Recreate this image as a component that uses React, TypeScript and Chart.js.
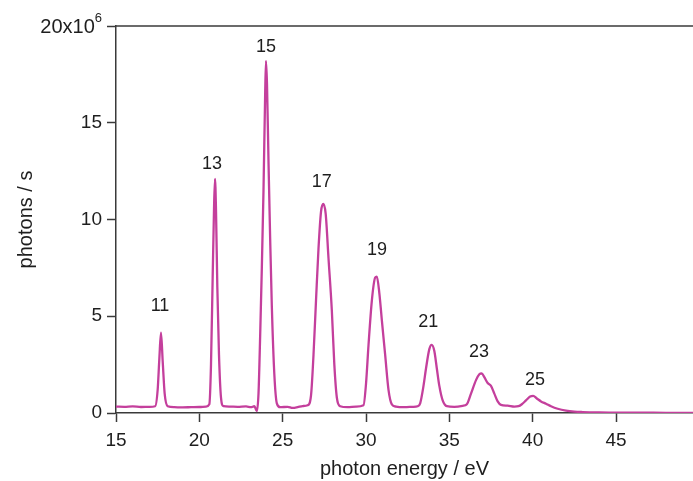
import React, { useEffect, useRef } from "react";
import { Chart, registerables } from "chart.js";

Chart.register(...registerables);

// photon energy (eV)
const spectrumEnergy = [
  15.0, 15.5, 16.0, 16.5, 17.0, 17.35, 17.5, 17.6, 17.7, 17.8, 17.92, 18.1, 18.5, 19.0, 19.5, 20.0,
  20.4, 20.6, 20.7, 20.8, 20.88, 20.94, 21.0, 21.08, 21.18, 21.3, 21.45, 21.8, 22.3, 22.8, 23.1, 23.3,
  23.45, 23.55, 23.65, 23.75, 23.85, 23.95, 24.0, 24.06, 24.15, 24.25, 24.35, 24.5, 24.65, 24.85,
  25.3, 25.6, 25.9, 26.2, 26.5, 26.7, 26.85, 27.0, 27.15, 27.3, 27.44, 27.58, 27.75, 27.95, 28.1,
  28.25, 28.45, 28.9, 29.4, 29.85, 30.0, 30.15, 30.35, 30.55, 30.65, 30.8, 30.95, 31.15, 31.35,
  31.55, 31.8, 32.3, 32.8, 33.1, 33.25, 33.45, 33.6, 33.8, 33.94, 34.1, 34.25, 34.4, 34.6, 34.85,
  35.3, 35.8, 36.05, 36.3, 36.6, 36.8, 36.94, 37.1, 37.3, 37.5, 37.7, 37.9, 38.1, 38.5, 38.9,
  39.15, 39.35, 39.6, 39.85, 40.03, 40.25, 40.5, 40.8, 41.1, 41.5, 42.0, 42.5, 43.0, 44.0, 45.0,
  46.5, 48.0, 49.62,
];

// photons / s (x10^6)
const spectrumPhotons = [
  0.33, 0.32, 0.34, 0.31, 0.32, 0.35, 1.2, 2.8, 4.15, 2.7, 1.0, 0.35, 0.3, 0.29, 0.3, 0.31,
  0.33, 0.45, 2.5, 7.0, 10.5, 12.1, 10.5, 6.5, 3.0, 0.8, 0.35, 0.33, 0.32, 0.34, 0.3, 0.35,
  0.1, 1.0, 4.0, 7.5, 11.5, 16.5, 18.2, 17.0, 13.0, 9.0, 5.5, 2.0, 0.5, 0.3,
  0.32, 0.26, 0.3, 0.36, 0.4, 0.9, 3.0, 5.8, 8.5, 10.4, 10.8, 10.3, 8.0, 5.3, 2.5,
  0.8, 0.35, 0.3, 0.33, 0.4, 1.5, 3.5, 5.8, 7.0, 7.05, 6.2, 4.8, 3.0, 1.2,
  0.45, 0.33, 0.3, 0.32, 0.35, 0.5, 1.4, 2.3, 3.3, 3.52, 3.2, 2.3, 1.4, 0.65, 0.35,
  0.32, 0.37, 0.45, 1.0, 1.7, 2.0, 2.05, 1.85, 1.55, 1.4, 1.0, 0.6, 0.42, 0.38, 0.33,
  0.35, 0.45, 0.65, 0.85, 0.88, 0.75, 0.6, 0.48, 0.35, 0.22, 0.12, 0.07, 0.05, 0.03, 0.02,
  0.02, 0.01, 0.01,
];

// harmonic order labels, anchored in data units
const harmonicOrders = ["11", "13", "15", "17", "19", "21", "23", "25"];
const harmonicLabelEnergy = [17.64, 20.76, 24.0, 27.34, 30.66, 33.73, 36.78, 40.14];
const harmonicLabelPhotons = [5.53, 12.87, 18.91, 11.96, 8.42, 4.68, 3.13, 1.72];

const xTicks = [15, 20, 25, 30, 35, 40, 45];
const yTicks = [0, 5, 10, 15, 20];
const xMin = 15;
const xMax = 49.62;
const yMin = 0;
const yMax = 20;

const FONT = "'Liberation Sans', Arial, Helvetica, sans-serif";
const TEXT = "#1e1e1e";
const AXIS = "#3a3a3a";
const LINE = "#c43f9c";

export default function App() {
  const ref = useRef<HTMLCanvasElement | null>(null);

  useEffect(() => {
    document.body.style.margin = "0";
    const canvas = ref.current;
    if (!canvas) return;

    const overlay = {
      id: "overlay",
      afterDraw(chart: any) {
        const { ctx, chartArea } = chart;
        const xs = chart.scales.x;
        const ys = chart.scales.y;
        ctx.save();
        // top frame line
        ctx.strokeStyle = AXIS;
        ctx.lineWidth = 1.5;
        ctx.beginPath();
        ctx.moveTo(chartArea.left, chartArea.top);
        ctx.lineTo(chartArea.right, chartArea.top);
        ctx.stroke();

        // top y label with superscript
        ctx.fillStyle = TEXT;
        ctx.textBaseline = "middle";
        const yTop = ys.getPixelForValue(yMax);
        ctx.font = `13px ${FONT}`;
        ctx.textAlign = "right";
        const supW = ctx.measureText("6").width;
        const rightEdge = chartArea.left - 14;
        ctx.fillText("6", rightEdge, yTop - 8);
        ctx.font = `20px ${FONT}`;
        ctx.fillText(`${yMax}x10`, rightEdge - supW, yTop + 1);

        // harmonic labels
        ctx.font = `18px ${FONT}`;
        ctx.textAlign = "center";
        ctx.textBaseline = "middle";
        harmonicOrders.forEach((lab, i) => {
          ctx.fillText(
            lab,
            xs.getPixelForValue(harmonicLabelEnergy[i]),
            ys.getPixelForValue(harmonicLabelPhotons[i])
          );
        });

        // axis titles
        ctx.font = `20px ${FONT}`;
        ctx.textBaseline = "alphabetic";
        ctx.textAlign = "center";
        ctx.fillText("photon energy / eV", (chartArea.left + chartArea.right) / 2, 475);
        ctx.translate(32, (chartArea.top + chartArea.bottom) / 2);
        ctx.rotate(-Math.PI / 2);
        ctx.fillText("photons / s", 0, 0);
        ctx.restore();
      },
    };

    const chart = new Chart(canvas, {
      type: "line",
      data: {
        datasets: [
          {
            data: spectrumEnergy.map((e, i) => ({ x: e, y: spectrumPhotons[i] })),
            borderColor: LINE,
            borderWidth: 2.3,
            pointRadius: 0,
            cubicInterpolationMode: "monotone",
            borderJoinStyle: "round",
            fill: false,
          },
        ],
      },
      options: {
        responsive: false,
        animation: false,
        layout: { padding: { top: 26, left: 0, right: 0, bottom: 0 } },
        plugins: { legend: { display: false }, tooltip: { enabled: false } },
        scales: {
          x: {
            type: "linear",
            min: xMin,
            max: xMax,
            afterBuildTicks: (s: any) => {
              s.ticks = xTicks.map((v) => ({ value: v }));
            },
            afterFit: (s: any) => {
              s.height = 68;
            },
            ticks: {
              color: TEXT,
              font: { size: 19, family: FONT },
              padding: 7,
              maxRotation: 0,
              autoSkip: false,
            },
            grid: {
              drawOnChartArea: false,
              drawTicks: true,
              tickLength: 9,
              tickColor: AXIS,
              tickWidth: 1.5,
            },
            border: { display: true, color: AXIS, width: 1.5 },
          },
          y: {
            type: "linear",
            min: yMin,
            max: yMax,
            afterBuildTicks: (s: any) => {
              s.ticks = yTicks.map((v) => ({ value: v }));
            },
            afterFit: (s: any) => {
              s.width = 116;
            },
            ticks: {
              color: TEXT,
              font: { size: 19, family: FONT },
              padding: 5,
              autoSkip: false,
              callback: (v: any) => (v === yMax ? "" : String(v)),
            },
            grid: {
              drawOnChartArea: false,
              drawTicks: true,
              tickLength: 9,
              tickColor: AXIS,
              tickWidth: 1.5,
            },
            border: { display: true, color: AXIS, width: 1.5 },
          },
        },
      },
      plugins: [overlay],
    });

    return () => chart.destroy();
  }, []);

  return (
    <div style={{ position: "absolute", left: 0, top: 0, width: 693, height: 481, background: "#fff" }}>
      <canvas ref={ref} width={693} height={481} style={{ display: "block" }} />
    </div>
  );
}
